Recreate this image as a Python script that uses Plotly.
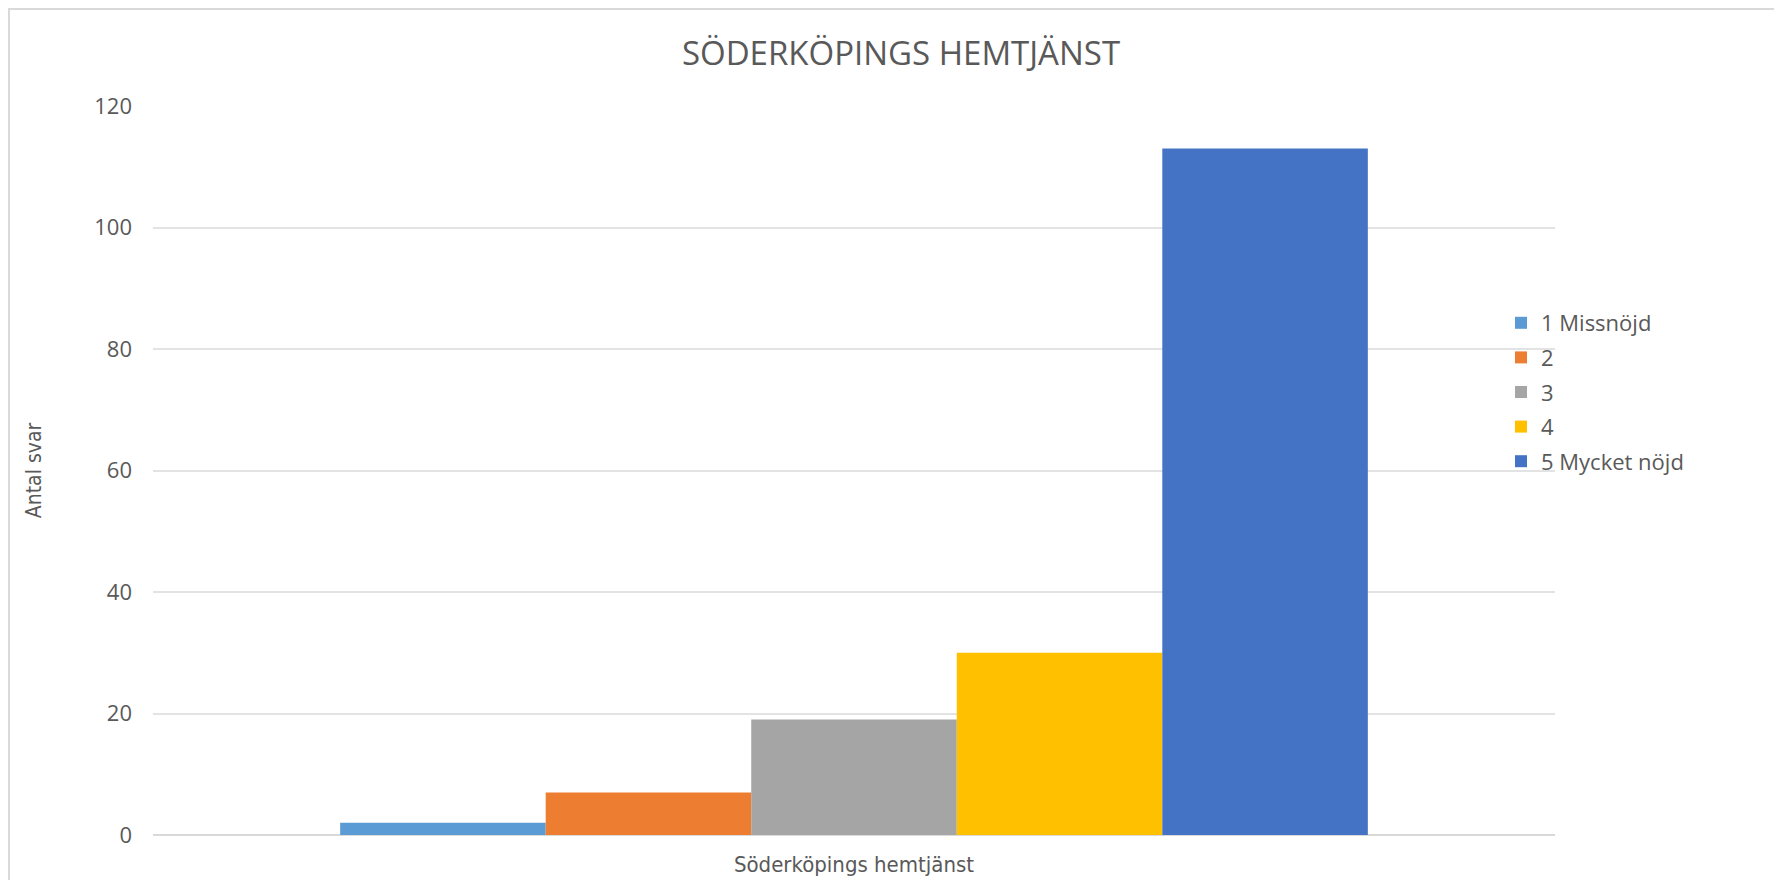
import plotly.graph_objects as go

categories = ["Söderköpings hemtjänst"]
series_names = ["1 Missnöjd", "2", "3", "4", "5 Mycket nöjd"]
series_values = [2, 7, 19, 30, 113]
series_colors = ["#5b9bd5", "#ed7d31", "#a5a5a5", "#ffc000", "#4472c4"]
y_ticks = [0, 20, 40, 60, 80, 100, 120]

fig = go.Figure()
for i, (name, val, col) in enumerate(zip(series_names, series_values, series_colors)):
    fig.add_trace(go.Bar(
        x=categories, y=[val], name=name, marker_color=col,
        marker_line_width=0, legendgroup=f"g{i}",
    ))

W, H = 1766, 872
L, R, T, B = 145, 219, 98, 45
pw, ph = W - L - R, H - T - B
COND = "DejaVu Sans Condensed, Open Sans, sans-serif"

fig.update_layout(
    width=W, height=H,
    margin=dict(l=L, r=R, t=T, b=B, autoexpand=False),
    paper_bgcolor="white", plot_bgcolor="white",
    barmode="group", bargap=0.267, bargroupgap=0,
    title=dict(text="SÖDERKÖPINGS HEMTJÄNST", x=893 / W, xanchor="center",
               y=1 - 45 / H, yanchor="middle",
               font=dict(family="Open Sans", size=33, color="#595959")),
    legend=dict(x=(1493 - L) / pw, xanchor="left", y=(H - B - 294) / ph, yanchor="top",
                font=dict(family="Open Sans", size=22, color="#595959"),
                tracegroupgap=3, itemwidth=30, bgcolor="rgba(0,0,0,0)"),
    xaxis=dict(showgrid=False, showline=False, ticks="", ticklabelstandoff=14,
               tickfont=dict(family=COND, size=22, color="#595959")),
    yaxis=dict(range=[0, 120], tickvals=y_ticks, showgrid=True, gridcolor="#e3e3e3",
               gridwidth=1.5, zeroline=True, zerolinecolor="#d9d9d9", zerolinewidth=1.5,
               ticklabelstandoff=20,
               tickfont=dict(family="Open Sans", size=22, color="#595959"),
               title=dict(text="Antal svar", standoff=46,
                          font=dict(family=COND, size=21, color="#595959"))),
    shapes=[dict(type="rect", xref="paper", yref="paper",
                 x0=(1 - L) / pw, x1=1.3, y0=-0.3, y1=(H - B - 1) / ph,
                 line=dict(color="#d9d9d9", width=2), layer="below")],
    showlegend=True,
)

fig.write_html("out.html")
